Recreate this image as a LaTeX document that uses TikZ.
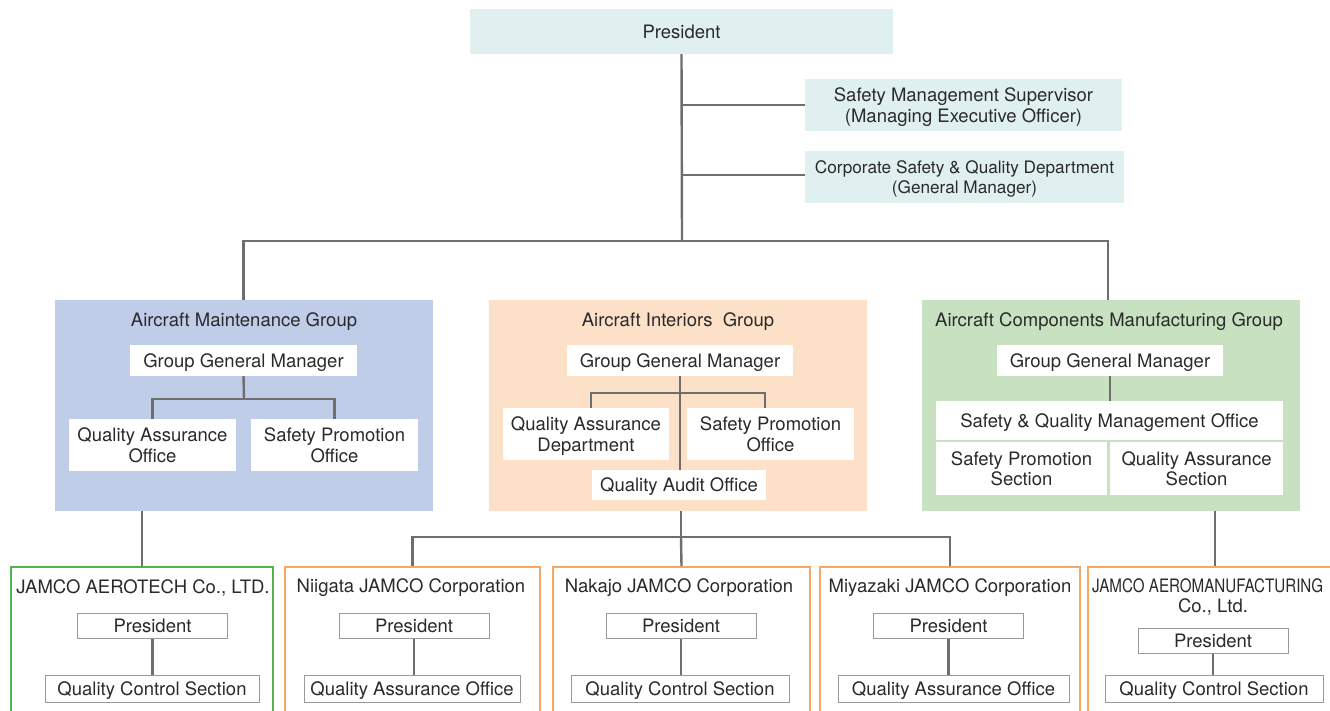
\documentclass[tikz,border=0pt]{standalone}
\usepackage{fontspec}
\setmainfont{TeX Gyre Heros}
\newfontfamily\condfont[FakeStretch=0.82]{TeX Gyre Heros}
\definecolor{topfill}{HTML}{E0F0F0}
\definecolor{g1fill}{HTML}{BFCDE8}
\definecolor{g2fill}{HTML}{FCE0C8}
\definecolor{g3fill}{HTML}{C8E1C0}
\definecolor{linegray}{HTML}{6E6E6E}
\definecolor{boxgray}{HTML}{9A9A9A}
\definecolor{txtcol}{HTML}{2A2A2A}
\definecolor{cogreen}{HTML}{55B24F}
\definecolor{coorange}{HTML}{F6A766}
\newcommand\myfs{\fontsize{18.5}{20.5}\selectfont}
\newcommand\mysfs{\fontsize{17.2}{20.5}\selectfont}
\tikzset{
  bx/.style={rectangle, inner sep=0pt, align=center, font=\myfs, text=txtcol, text depth=0pt},
  topbox/.style={bx, fill=topfill},
  wbox/.style={bx, fill=white},
  sbox/.style={bx, fill=white, draw=boxgray, line width=1pt},
  lbl/.style={inner sep=0pt, font=\myfs, text=txtcol, align=center, text depth=0pt},
  grp/.style={rectangle, inner sep=0pt, minimum width=378pt, minimum height=211pt},
  co/.style={rectangle, inner sep=0pt, line width=1.8pt, fill=white, minimum height=158pt},
  conn/.style={draw=linegray, line width=2.4pt}
}
\begin{document}
\begin{tikzpicture}[x=1pt,y=-1pt]
\path[use as bounding box] (0,0) rectangle (1330,710);
\clip (0,0) rectangle (1330,710);

% top level
\node[topbox, minimum width=423pt, minimum height=45pt] (pres) at (681.5,31.5) {President};
\node[topbox, minimum width=317pt, minimum height=52pt] (sms) at (963.5,105) {Safety Management Supervisor\\(Managing Executive Officer)};
\node[topbox, minimum width=319pt, minimum height=52pt, font=\mysfs] (csq) at (964.5,177) {Corporate Safety \& Quality Department\\(General Manager)};

% groups
\node[grp, fill=g1fill] (g1) at (243.5,405.5) {};
\node[grp, fill=g2fill] (g2) at (678,405.5) {};
\node[grp, fill=g3fill] (g3) at (1111,405.5) {};
\node[lbl] (g1t) at (244,320) {Aircraft Maintenance Group};
\node[lbl] (g2t) at (678,320) {Aircraft Interiors\ \ Group};
\node[lbl] (g3t) at (1109,320) {Aircraft Components Manufacturing Group};

% group 1
\node[wbox, minimum width=227pt, minimum height=31pt] (ggm1) at (243.5,360.5) {Group General Manager};
\node[wbox, minimum width=167pt, minimum height=52pt] (qa1) at (152.5,445) {Quality Assurance\\Office};
\node[wbox, minimum width=167pt, minimum height=52pt] (sp1) at (334.5,445) {Safety Promotion\\Office};

% group 2
\node[wbox, minimum width=226pt, minimum height=31pt] (ggm2) at (680,360.5) {Group General Manager};
\node[wbox, minimum width=166pt, minimum height=52pt] (qa2) at (586,434) {Quality Assurance\\Department};
\node[wbox, minimum width=167pt, minimum height=52pt] (sp2) at (770.5,434) {Safety Promotion\\Office};
\node[wbox, minimum width=174pt, minimum height=30pt] (qao2) at (679,485) {Quality Audit Office};

% group 3
\node[wbox, minimum width=226pt, minimum height=31pt] (ggm3) at (1110,360.5) {Group General Manager};
\node[wbox, minimum width=347pt, minimum height=39pt] (sqm) at (1109.5,420.5) {Safety \& Quality Management Office};
\node[wbox, minimum width=171pt, minimum height=53pt] (sps) at (1021.5,468.5) {Safety Promotion\\Section};
\node[wbox, minimum width=173pt, minimum height=53pt] (qas) at (1196.5,468.5) {Quality Assurance\\Section};

% companies
\node[co, draw=cogreen, minimum width=262pt] (c1) at (142,646) {};
\node[co, draw=coorange, minimum width=255pt] (c2) at (412.5,646) {};
\node[co, draw=coorange, minimum width=257pt] (c3) at (681.5,646) {};
\node[co, draw=coorange, minimum width=260pt] (c4) at (950,646) {};
\node[co, draw=coorange, minimum width=254pt] (c5) at (1215,646) {};

\node[lbl] (c1t) at (143,587) {JAMCO AEROTECH Co., LTD.};
\node[lbl] (c2t) at (411,586) {Niigata JAMCO Corporation};
\node[lbl] (c3t) at (679,586) {Nakajo JAMCO Corporation};
\node[lbl] (c4t) at (950,586) {Miyazaki JAMCO Corporation};
\node[lbl, anchor=west, font=\condfont\myfs] (c5t) at (1092,586) {JAMCO AEROMANUFACTURING};
\node[lbl] (c5u) at (1213,606) {Co., Ltd.};

\node[sbox, minimum width=150pt, minimum height=25pt] (p1) at (152.5,625.5) {President};
\node[sbox, minimum width=150pt, minimum height=25pt] (p2) at (414,625.5) {President};
\node[sbox, minimum width=150pt, minimum height=25pt] (p3) at (681,625.5) {President};
\node[sbox, minimum width=150pt, minimum height=25pt] (p4) at (948.5,625.5) {President};
\node[sbox, minimum width=150pt, minimum height=25pt] (p5) at (1213,640.5) {President};

\node[sbox, minimum width=214pt, minimum height=27pt] (q1) at (152,688.5) {Quality Control Section};
\node[sbox, minimum width=216pt, minimum height=27pt] (q2) at (412,688.5) {Quality Assurance Office};
\node[sbox, minimum width=218pt, minimum height=27pt] (q3) at (680,688.5) {Quality Control Section};
\node[sbox, minimum width=231pt, minimum height=27pt] (q4) at (953.5,688.5) {Quality Assurance Office};
\node[sbox, minimum width=218pt, minimum height=27pt] (q5) at (1214,688.5) {Quality Control Section};

% connectors: top
\coordinate (bus) at (682,241);
\coordinate (j1) at (682,105);
\coordinate (j2) at (682,175);
\coordinate (g3top) at (1108,0 |- g3.north);
\draw[conn] (pres.south) -- (bus);
\draw[conn] (j1) -- (j1 -| sms.west);
\draw[conn] (j2) -- (j2 -| csq.west);
\draw[conn] (g1.north) |- (bus) -| (g3top);

% group 1
\coordinate (b1) at (244,399);
\draw[conn] (ggm1.south) -- (b1);
\draw[conn] (qa1.north) |- (b1) -| (sp1.north);

% group 2
\coordinate (b2l) at (591,393);
\coordinate (b2r) at (765,393);
\draw[conn] (ggm2.south) -- (ggm2.south |- qao2.north);
\draw[conn] (b2l |- qa2.north) -- (b2l) -- (b2r) -- (b2r |- sp2.north);

% group 3
\draw[conn] (ggm3.south) -- (ggm3.south |- sqm.north);

% groups to companies
\draw[conn] (g1.south -| c1.north) -- (c1.north);
\coordinate (bus2) at (681,537);
\draw[conn] (g2.south -| bus2) -- (bus2);
\draw[conn] (c2.north) |- (bus2) -| (c4.north);
\draw[conn] (bus2) -- (c3.north);
\draw[conn] (g3.south -| c5.north) -- (c5.north);

% inside companies
\draw[conn] (p1.south) -- (p1.south |- q1.north);
\draw[conn] (p2.south) -- (p2.south |- q2.north);
\draw[conn] (p3.south) -- (p3.south |- q3.north);
\draw[conn] (p4.south) -- (p4.south |- q4.north);
\draw[conn] (p5.south) -- (p5.south |- q5.north);
\end{tikzpicture}
\end{document}
